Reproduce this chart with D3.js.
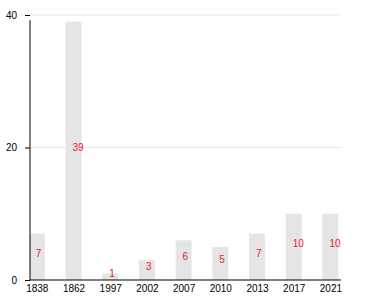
<!DOCTYPE html>
<html><head><meta charset="utf-8">
<script src="https://cdn.jsdelivr.net/npm/d3@7"></script>
<style>body{margin:0;background:#fff}svg{display:block}text{font-family:"Liberation Sans",Arial,sans-serif}</style>
</head><body>
<svg id="c" width="380" height="300"></svg>
<script>
const categories = ["1838","1862","1997","2002","2007","2010","2013","2017","2021"];
const values = [7,39,1,3,6,5,7,10,10];
const yTicks = [0,20,40];

(function(){
const svg = d3.select("#c");
const mLeft = 30, mRight = 340, mTop = 15, mBottom = 280;
const x = d3.scalePoint().domain(categories).range([36.8, 330.4]);
const y = d3.scaleLinear().domain([0,40]).range([mBottom, mTop]);
const barW = 16;
const fs = 10;

// gridlines
svg.append("g").selectAll("line").data(yTicks.filter(d=>d>0)).join("line")
  .attr("x1", mLeft).attr("x2", mRight)
  .attr("y1", d=>y(d)).attr("y2", d=>y(d))
  .attr("stroke", "#e6e6e6").attr("stroke-width", 1);

svg.append("clipPath").attr("id","pc").append("rect")
  .attr("x", mLeft).attr("y", 0).attr("width", mRight-mLeft+5).attr("height", mBottom);

// bars
svg.append("g").attr("clip-path","url(#pc)").selectAll("rect").data(values).join("rect")
  .attr("x", (d,i)=>x(categories[i]) - barW/2)
  .attr("width", barW)
  .attr("y", d=>y(d))
  .attr("height", d=>mBottom - y(d))
  .attr("fill", "#e5e5e5");

// value labels
svg.append("g").selectAll("text").data(values).join("text")
  .attr("x", (d,i)=>x(categories[i]) - 1)
  .attr("y", d=>y(d/2))
  .attr("fill", "#e8202a")
  .attr("font-size", fs)
  .text(d=>d);

// y axis
const yg = svg.append("g").attr("transform", `translate(${mLeft},0)`)
  .call(d3.axisLeft(y).tickValues(yTicks).tickSize(5).tickPadding(8));
yg.select(".domain").remove();
yg.selectAll("text").attr("font-size", fs).attr("fill","#000").attr("font-family","Liberation Sans, Arial, sans-serif");
yg.selectAll("line").attr("stroke","#000");
svg.append("line").attr("x1", mLeft).attr("x2", mLeft)
  .attr("y1", y(39.2)).attr("y2", mBottom).attr("stroke","#000");

// x axis
const xg = svg.append("g").attr("transform", `translate(0,${mBottom})`)
  .call(d3.axisBottom(x).tickSize(0).tickPadding(5));
xg.select(".domain").remove();
xg.selectAll("text").attr("font-size", fs).attr("fill","#000").attr("font-family","Liberation Sans, Arial, sans-serif");
svg.append("line").attr("x1", mLeft).attr("x2", mRight+1)
  .attr("y1", mBottom).attr("y2", mBottom).attr("stroke","#000");
})();
</script>
</body></html>
